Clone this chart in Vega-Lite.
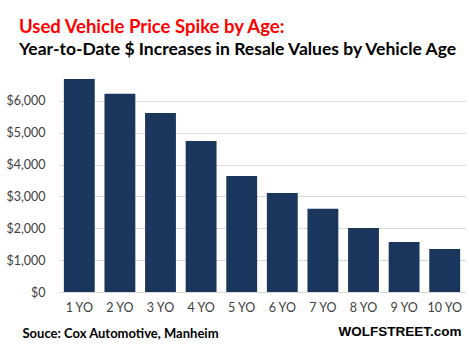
{
  "$schema": "https://vega.github.io/schema/vega-lite/v6.json",
  "width": 406,
  "height": 223,
  "autosize": {"type": "none"},
  "padding": {"left": 59, "top": 69, "right": 4, "bottom": 62},
  "background": "white",
  "title": {
    "text": "Used Vehicle Price Spike by Age:",
    "subtitle": "Year-to-Date $ Increases in Resale Values by Vehicle Age",
    "anchor": "start",
    "frame": "group",
    "dx": -40,
    "offset": 11,
    "font": "Lato",
    "fontSize": 18.5,
    "fontWeight": "bold",
    "color": "#ff0000",
    "subtitleFont": "Lato",
    "subtitleFontSize": 17.5,
    "subtitleFontWeight": "bold",
    "subtitleColor": "#000000",
    "subtitlePadding": 4
  },
  "data": {
    "values": [
      {"age": "1 YO", "increase": 6690},
      {"age": "2 YO", "increase": 6220},
      {"age": "3 YO", "increase": 5620},
      {"age": "4 YO", "increase": 4740},
      {"age": "5 YO", "increase": 3640},
      {"age": "6 YO", "increase": 3110},
      {"age": "7 YO", "increase": 2610},
      {"age": "8 YO", "increase": 2010},
      {"age": "9 YO", "increase": 1570},
      {"age": "10 YO", "increase": 1350}
    ]
  },
  "mark": {"type": "bar", "color": "#1b365d"},
  "encoding": {
    "x": {
      "field": "age",
      "type": "nominal",
      "sort": null,
      "scale": {"paddingInner": 0.24, "paddingOuter": 0.12},
      "axis": {
        "title": "Souce: Cox Automotive, Manheim",
        "titleAnchor": "start",
        "titleAlign": "left",
        "titleX": -37,
        "titleY": 41,
        "titleBaseline": "middle",
        "titleFont": "Lato",
        "titleFontSize": 13,
        "titleFontWeight": "bold",
        "titleColor": "#000000",
        "labelAngle": 0,
        "labelFont": "Lato",
        "labelFontSize": 12.5,
        "labelColor": "#404040",
        "labelPadding": 9,
        "ticks": false,
        "domainColor": "#d9d9d9",
        "domainWidth": 1,
        "grid": false
      }
    },
    "y": {
      "field": "increase",
      "type": "quantitative",
      "scale": {"domain": [0, 7000], "nice": false},
      "axis": {
        "values": [0, 1000, 2000, 3000, 4000, 5000, 6000],
        "format": "$,.0f",
        "title": "WOLFSTREET.com",
        "titleAngle": 0,
        "titleAlign": "left",
        "titleBaseline": "middle",
        "titleX": 279,
        "titleY": 262,
        "titleFont": "Liberation Sans",
        "titleFontSize": 13.5,
        "titleFontWeight": "bold",
        "titleColor": "#000000",
        "labelFont": "Lato",
        "labelFontSize": 12.5,
        "labelColor": "#404040",
        "labelPadding": 14,
        "ticks": false,
        "domain": false,
        "gridColor": "#d9d9d9",
        "gridWidth": 1
      }
    }
  },
  "config": {"view": {"stroke": null}}
}
